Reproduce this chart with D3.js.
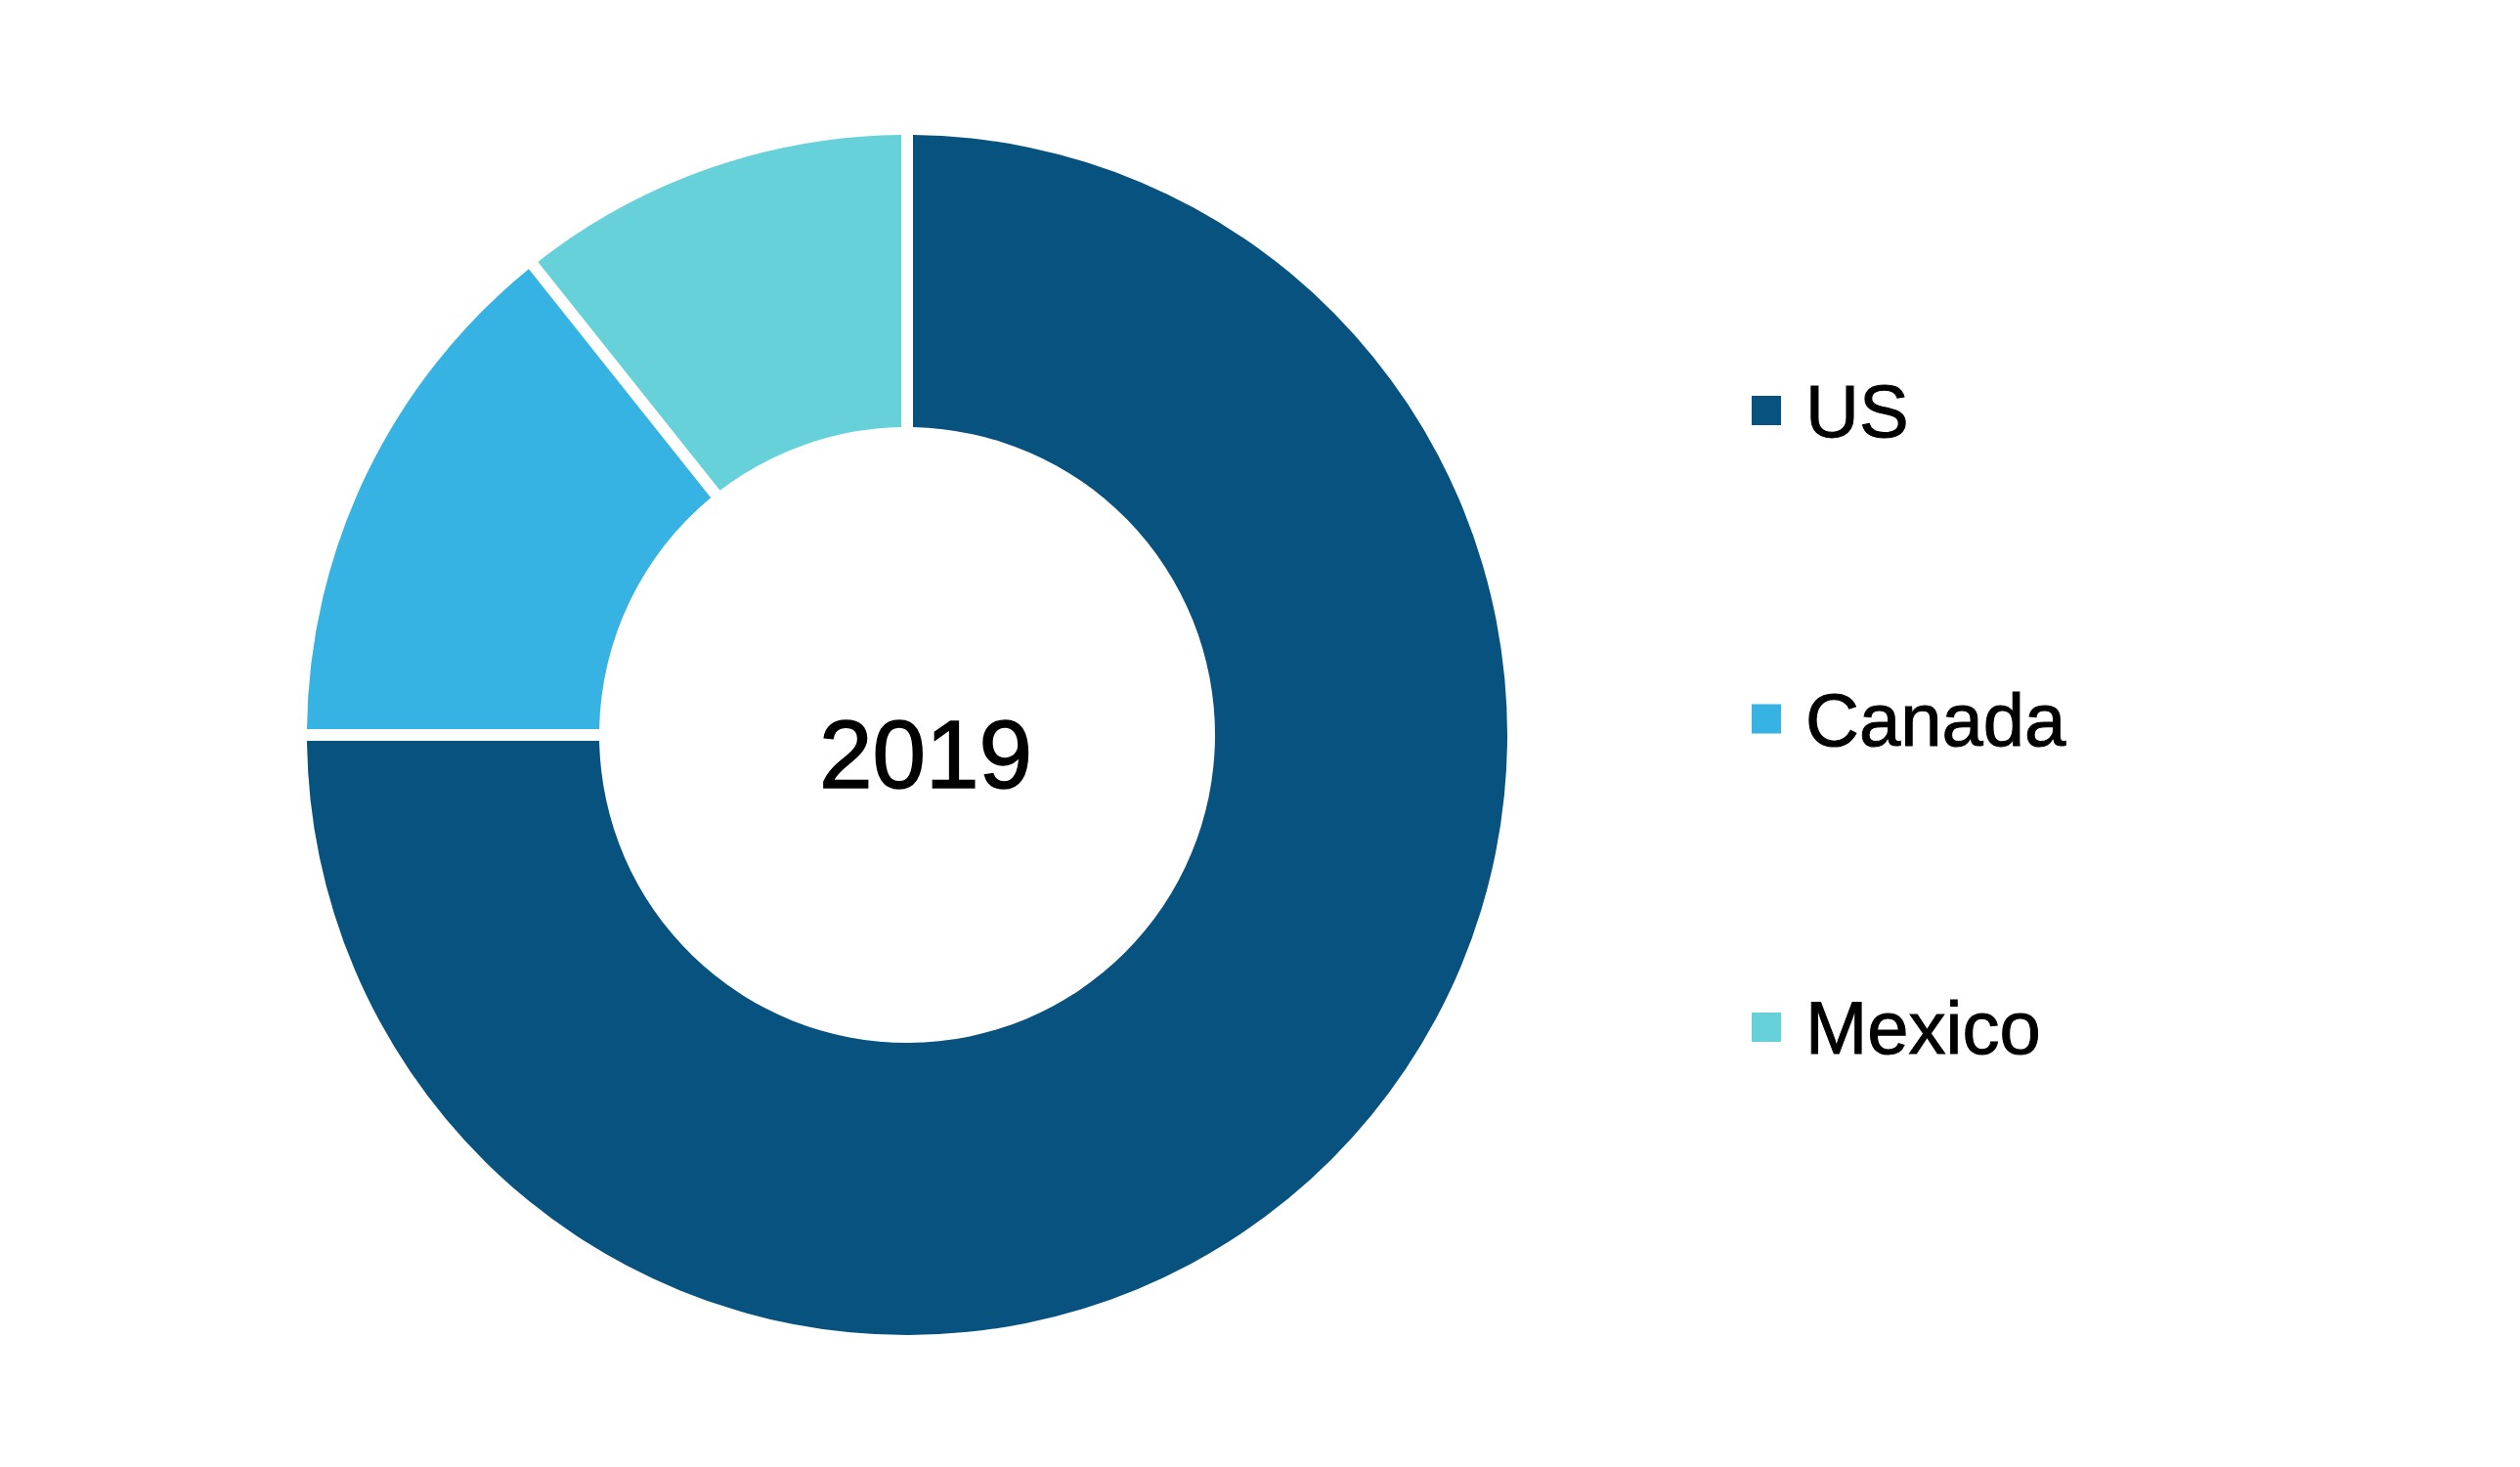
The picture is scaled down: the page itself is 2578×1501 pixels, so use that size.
<!DOCTYPE html>
<html>
<head>
<meta charset="utf-8">
<script src="https://cdn.jsdelivr.net/npm/d3@7"></script>
<style>
  html, body { margin: 0; padding: 0; background: #ffffff; }
  svg { display: block; }
</style>
</head>
<body>
<script>
const categories = ["US", "Canada", "Mexico"];
const values = [75.0, 14.3, 10.7];
const colors = ["#07527e", "#36b2e3", "#66d1d9"];
const centerLabel = "2019";

const W = 2578, H = 1501;
const cx = 928, cy = 752;
const outerR = 614, innerR = 315;

const svg = d3.select("body").append("svg")
  .attr("width", W).attr("height", H);

const data = categories.map((c, i) => ({ name: c, value: values[i], color: colors[i] }));

const pie = d3.pie().sort(null).value(d => d.value)
  .startAngle(0).endAngle(2 * Math.PI);

const gap = 12;
const arc = d3.arc()
  .innerRadius(innerR)
  .outerRadius(outerR)
  .padRadius(outerR)
  .padAngle(gap / outerR);

const g = svg.append("g").attr("transform", `translate(${cx},${cy})`);
g.selectAll("path").data(pie(data)).enter().append("path")
  .attr("d", arc)
  .attr("fill", d => d.data.color);

svg.append("text")
  .attr("x", 947).attr("y", 806)
  .attr("text-anchor", "middle")
  .attr("font-family", "'Liberation Sans', Arial, sans-serif")
  .attr("font-size", 98)
  .attr("fill", "#000")
  .attr("stroke", "#000")
  .attr("stroke-width", 1.6)
  .text(centerLabel);

const legendY = d3.scalePoint().domain(categories).range([420, 1051]);
const lg = svg.append("g");
const items = lg.selectAll("g").data(data).enter().append("g")
  .attr("transform", d => `translate(1792,${legendY(d.name)})`);
items.append("rect")
  .attr("x", 0).attr("y", -15).attr("width", 30).attr("height", 30)
  .attr("fill", d => d.color);
items.append("text")
  .attr("x", 55).attr("y", 27)
  .attr("font-family", "'Liberation Sans', Arial, sans-serif")
  .attr("font-size", 76)
  .attr("fill", "#000")
  .attr("stroke", "#000")
  .attr("stroke-width", 1)
  .text(d => d.name);
</script>
</body>
</html>
